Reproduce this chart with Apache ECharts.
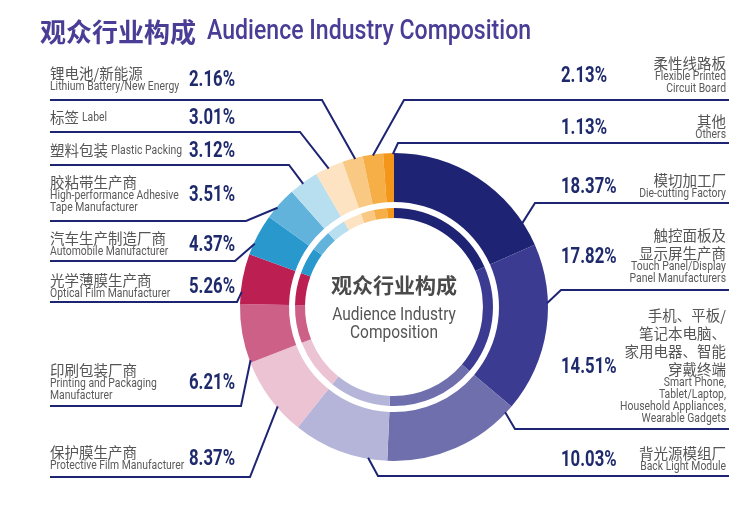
<!DOCTYPE html>
<html><head><meta charset="utf-8">
<script src="https://cdn.jsdelivr.net/npm/echarts@6/dist/echarts.min.js"></script>
<style>html,body{margin:0;padding:0;background:#fff}#c{width:750px;height:507px}</style>
</head><body><div id="c"></div>
<script>
// ---- data ----
const categories = ['模切加工厂', '触控面板及\n显示屏生产商', '手机、平板/\n笔记本电脑、\n家用电器、智能\n穿戴终端', '背光源模组厂', '保护膜生产商', '印刷包装厂商', '光学薄膜生产商', '汽车生产制造厂商', '胶粘带生产商', '塑料包装', '标签', '锂电池/新能源', '柔性线路板', '其他'];
const categoriesEn = ['Die-cutting Factory', 'Touch Panel/Display\nPanel Manufacturers', 'Smart Phone,\nTablet/Laptop,\nHousehold Appliances,\nWearable Gadgets', 'Back Light Module', 'Protective Film Manufacturer', 'Printing and Packaging\nManufacturer', 'Optical Film Manufacturer', 'Automobile Manufacturer', 'High-performance Adhesive\nTape Manufacturer', 'Plastic Packing', 'Label', 'Lithium Battery/New Energy', 'Flexible Printed\nCircuit Board', 'Others'];
const shares = [18.37, 17.82, 14.51, 10.03, 8.37, 6.21, 5.26, 4.37, 3.51, 3.12, 3.01, 2.16, 2.13, 1.13];
const titleCn = '观众行业构成';
const titleEn = 'Audience Industry Composition';
const centerCn = '观众行业构成';
const centerEn = 'Audience Industry\nComposition';

// ---- styles / layout ----
const colors = ['#1e2473', '#3b3b91', '#6f6fae', '#b5b5d9', '#ecc3d3', '#cd6086', '#bc1f52', '#2898cd', '#62b3db', '#b8dff0', '#fde3c1', '#f9c983', '#f6ae46', '#f39619'];
const CX = 394, CY = 307, R_OUT = 154, R_OUT0 = 105, R_IN = 99, R_IN0 = 89;
const LAT = "Roboto,sans-serif";
const CJK = "'Noto Sans CJK SC','Noto Sans',sans-serif";
const LINE = '#1e2474';
const place = [
  {side: 'R', lineY: 203, elbowX: 535, frac: 0.86, textY: 180},
  {side: 'R', lineY: 290, elbowX: 561, frac: 0.35, textY: 235},
  {side: 'R', lineY: 429, elbowX: 515, frac: 0.06, textY: 315},
  {side: 'R', lineY: 476, elbowX: 378, frac: 0.20, textY: 453},
  {side: 'L', lineY: 477, elbowX: 250, frac: 0.36, textY: 452},
  {side: 'L', lineY: 406, elbowX: 241, frac: 0.04, textY: 370},
  {side: 'L', lineY: 302, elbowX: 237, frac: 0.24, textY: 280},
  {side: 'L', lineY: 261, elbowX: 235, frac: 0.28, textY: 238},
  {side: 'L', lineY: 221, elbowX: 246, frac: 0.37, textY: 182},
  {side: 'L', lineY: 165, elbowX: 289, frac: 0.46, textY: 150, inline: true},
  {side: 'L', lineY: 132, elbowX: 300, frac: 0.47, textY: 117, inline: true},
  {side: 'L', lineY: 100, elbowX: 322, frac: 0.62, textY: 73},
  {side: 'R', lineY: 100, elbowX: 404, frac: 0.50, textY: 63},
  {side: 'R', lineY: 143, elbowX: 398, frac: 0.90, textY: 121}
];
const LEFT_X = 50, RIGHT_X = 729, TEXT_R = 726, PCT_L = 235, PCT_R = 561;
const CN_SIZE = 14.5, EN_SIZE = 13, EN_SCALE = 0.8, PCT_SCALE = 0.76;

const chart = echarts.init(document.getElementById('c'), null, {renderer: 'canvas'});
const pieData = shares.map((v, i) => ({value: v, name: categories[i], itemStyle: {color: colors[i]}}));

function txt(x, y, text, font, fill, align, valign, sx) {
  return {
    type: 'text', z: 100, silent: true, x: x, y: y,
    scaleX: sx || 1, scaleY: 1, originX: 0, originY: 0,
    style: {x: 0, y: 0, text: text, font: font, fill: fill,
      align: align, verticalAlign: valign, textAlign: align, textVerticalAlign: valign}
  };
}

const graphics = [];
// title
graphics.push(txt(40, 32, titleCn, 'bold 26px ' + CJK, '#4a3d96', 'left', 'middle'));
graphics.push(txt(207, 32, titleEn, '500 27px ' + LAT, '#4a3d96', 'left', 'middle', 0.855));
// center text
graphics.push(txt(CX, 285, centerCn, 'bold 21px ' + CJK, '#4a4a4a', 'center', 'middle'));
centerEn.split('\n').forEach((s, k) => graphics.push(txt(CX, 315 + k * 18, s, '18px ' + LAT, '#555', 'center', 'middle', 0.86)));

// labels and leader lines
const total = shares.reduce((a, b) => a + b, 0);
let cum = 0;
shares.forEach((v, i) => {
  const p = place[i];
  const a = (cum + p.frac * v) / total * Math.PI * 2;
  cum += v;
  const r = R_OUT - 1;
  const ax = CX + r * Math.sin(a), ay = CY - r * Math.cos(a);
  const endX = p.side === 'L' ? LEFT_X : RIGHT_X;
  graphics.push({type: 'polyline', z: 90, silent: true,
    shape: {points: [[ax, ay], [p.elbowX, p.lineY], [endX, p.lineY]]},
    style: {stroke: LINE, lineWidth: 2, fill: null, lineJoin: 'miter'}});
  const tx = p.side === 'L' ? LEFT_X : TEXT_R;
  const al = p.side === 'L' ? 'left' : 'right';
  let lastY;
  if (p.inline) {
    graphics.push(txt(tx, p.textY, categories[i], CN_SIZE + 'px ' + CJK, '#555', 'left', 'middle'));
    graphics.push(txt(tx + categories[i].length * CN_SIZE + 3, p.textY + 1, categoriesEn[i], EN_SIZE + 'px ' + LAT, '#5a5a5a', 'left', 'middle', EN_SCALE));
    lastY = p.textY;
  } else {
    let y = p.textY;
    const cn = categories[i].split('\n');
    cn.forEach((s, k) => {
      if (k > 0) y += 18;
      graphics.push(txt(tx, y, s, CN_SIZE + 'px ' + CJK, '#555', al, 'middle'));
    });
    const en = categoriesEn[i].split('\n');
    en.forEach((s, k) => {
      y += (k === 0 ? 13.5 : 12);
      graphics.push(txt(tx, y, s, EN_SIZE + 'px ' + LAT, '#5a5a5a', al, 'middle', EN_SCALE));
    });
    lastY = y;
  }
  const py = (p.textY + lastY) / 2 + 1;
  const px = p.side === 'L' ? PCT_L : PCT_R;
  graphics.push(txt(px, py, v.toFixed(2) + '%', 'bold 22px ' + LAT, '#1e2a6c', al === 'left' ? 'right' : 'left', 'middle', PCT_SCALE));
});

chart.setOption({
  animation: false,
  backgroundColor: '#fff',
  series: [
    {type: 'pie', center: [CX, CY], radius: [R_OUT0, R_OUT], startAngle: 90, clockwise: true, silent: true,
      label: {show: false}, labelLine: {show: false}, data: pieData},
    {type: 'pie', center: [CX, CY], radius: [R_IN0, R_IN], startAngle: 90, clockwise: true, silent: true,
      label: {show: false}, labelLine: {show: false}, data: pieData}
  ],
  graphic: {elements: graphics}
});
</script></body></html>
